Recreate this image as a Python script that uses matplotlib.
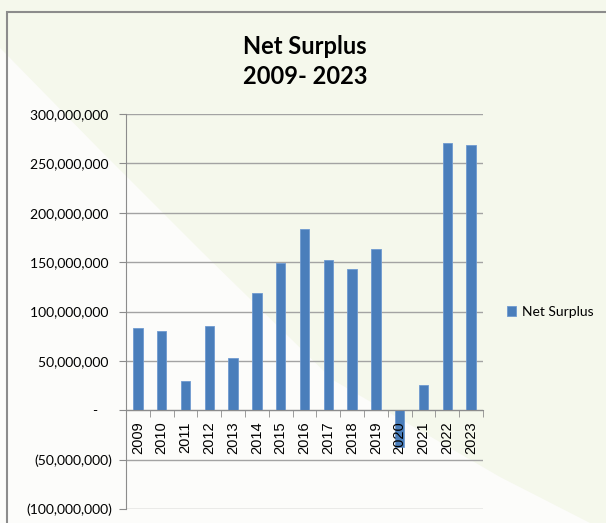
import matplotlib
matplotlib.use("Agg")
import matplotlib.pyplot as plt
from matplotlib.patches import Polygon, Rectangle
from matplotlib.ticker import FuncFormatter, MultipleLocator
import numpy as np

years = ["2009", "2010", "2011", "2012", "2013", "2014", "2015", "2016",
         "2017", "2018", "2019", "2020", "2021", "2022", "2023"]
net_surplus = [83_000_000, 79_800_000, 30_100_000, 85_400_000, 53_000_000,
               118_600_000, 149_300_000, 183_100_000, 151_700_000, 142_900_000,
               163_200_000, -37_000_000, 26_000_000, 270_300_000, 268_300_000]
series_name = "Net Surplus"
title_lines = ["Net Surplus", "2009- 2023"]

W, H = 606, 523
fig = plt.figure(figsize=(W / 100, H / 100), dpi=100)
fig.patch.set_facecolor("#f5f8ec")

# background white wedge
pts = [(0, 48), (7, 55), (100, 150), (200, 250), (333, 380),
       (500, 477), (590, 523), (0, 523)]
fig.add_artist(Polygon([(x / W, 1 - y / H) for x, y in pts], closed=True,
                       transform=fig.transFigure, facecolor="#fcfcfa",
                       edgecolor="none", zorder=-2))
# chart border
fig.add_artist(Rectangle((7 / W, -0.05), 1.1, 1 - 12 / H + 0.05,
                         transform=fig.transFigure, facecolor="none",
                         edgecolor="#8c8c8c", lw=1.5, zorder=-1))

ax = fig.add_axes([126 / W, 1 - 509 / H, (483 - 126) / W, (509 - 114) / H])
ax.set_facecolor("none")
ax.set_axisbelow(False)

x = np.arange(len(years))
ax.bar(x, net_surplus, width=0.4, color="#4a7ebb", edgecolor="#6f9ad0",
       linewidth=0.6, label=series_name, zorder=2)

ax.set_xlim(-0.5, len(years) - 0.5)
ax.set_ylim(-100_000_000, 300_000_000)
ax.yaxis.set_major_locator(MultipleLocator(50_000_000))

def fmt(v, pos):
    if abs(v) < 1:
        return "-    "
    if v < 0:
        return f"({abs(v):,.0f})"
    return f"{v:,.0f} "

ax.yaxis.set_major_formatter(FuncFormatter(fmt))
# gridlines below bars (axis itself stays above bars so labels are on top)
for yv in ax.get_yticks():
    if ax.get_ylim()[0] <= yv <= ax.get_ylim()[1]:
        ax.axhline(yv, color="#a3a3a3", lw=1.0, zorder=0.5)

for s in ["top", "right"]:
    ax.spines[s].set_visible(False)
ax.spines["left"].set_color("#8c8c8c")
ax.spines["bottom"].set_position(("data", 0))
ax.spines["bottom"].set_color("#8c8c8c")
ax.spines["bottom"].set_zorder(3)

ax.set_xticks(x)
ax.set_xticklabels(years, rotation=90, fontfamily="Liberation Sans", fontsize=10.5)
ax.set_xticks(np.arange(-0.5, len(years), 1), minor=True)
ax.tick_params(axis="x", which="major", length=0, pad=8)
ax.tick_params(axis="x", which="minor", length=5, color="#8c8c8c", direction="out")
ax.tick_params(axis="y", length=5, color="#8c8c8c", pad=5)
for lab in ax.get_yticklabels():
    lab.set_fontfamily("Lato")
    lab.set_fontsize(10)

fig.text(305 / W, 1 - 47 / H, title_lines[0], ha="center", va="center",
         fontfamily="Lato", fontweight="bold", fontsize=17)
fig.text(305 / W, 1 - 77 / H, title_lines[1], ha="center", va="center",
         fontfamily="Lato", fontweight="bold", fontsize=17)

leg = fig.legend(loc="center left", bbox_to_anchor=(494 / W, 1 - 312 / H),
                 frameon=False, prop={"family": "Lato", "size": 10},
                 handlelength=0.7, handleheight=0.7, handletextpad=0.4)

fig.savefig("out.png", dpi=100, facecolor=fig.get_facecolor())
